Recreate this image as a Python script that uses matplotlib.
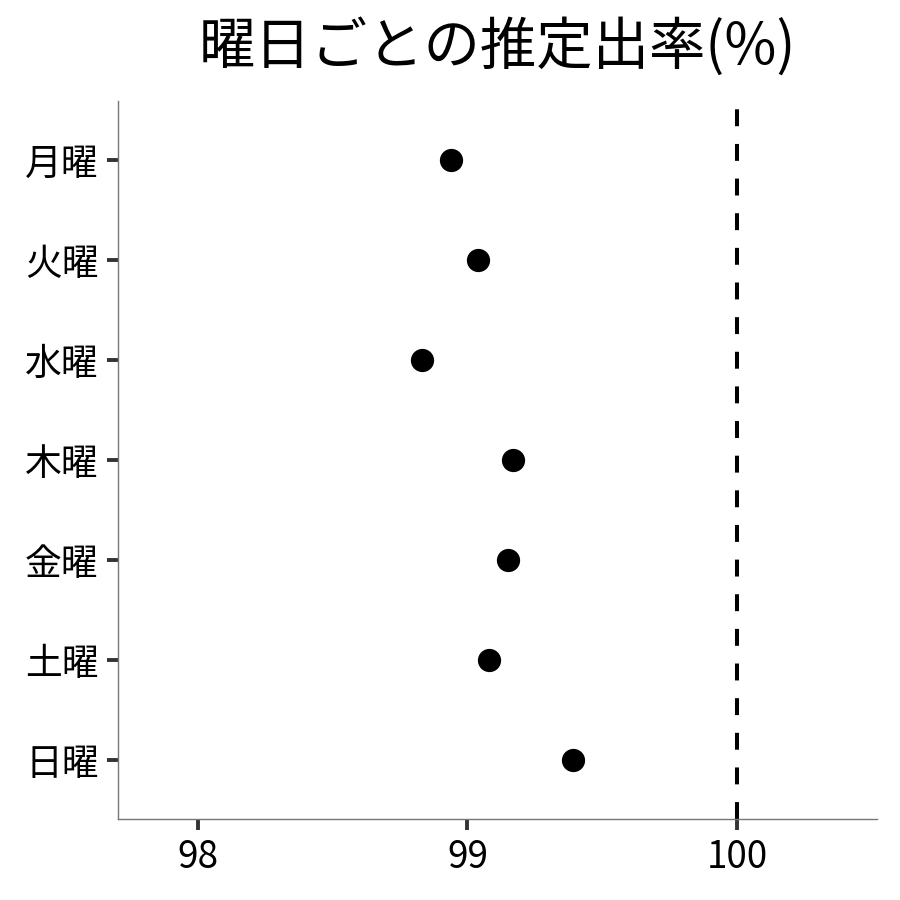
import matplotlib
matplotlib.use("Agg")
import matplotlib.pyplot as plt

plt.rcParams['font.family'] = ['Noto Sans CJK JP', 'DejaVu Sans']

# データ
days = ['月曜', '火曜', '水曜', '木曜', '金曜', '土曜', '日曜']
rates = [98.94, 99.04, 98.83, 99.17, 99.15, 99.08, 99.39]
x_ticks = [98, 99, 100]
ref_line = 100

fig = plt.figure(figsize=(9, 9), dpi=100)
ax = fig.add_axes([118 / 900, 1 - 819 / 900, (877 - 118) / 900, (819 - 101) / 900])

# 上から月曜
ypos = list(range(len(days), 0, -1))
ax.scatter(rates, ypos, s=280, color='black', zorder=3, linewidths=0)
ax.axvline(ref_line, color='black', linewidth=2.9, dashes=(4.2, 4.4), zorder=2)

ax.set_xlim(97.703, 100.52)
ax.set_ylim(0.41, len(days) + 0.59)
ax.set_xticks(x_ticks)
ax.set_xticklabels([str(t) for t in x_ticks])
ax.set_yticks(ypos)
ax.set_yticklabels(days)

for s in ['top', 'right']:
    ax.spines[s].set_visible(False)
for s in ['left', 'bottom']:
    ax.spines[s].set_color('#777777')
    ax.spines[s].set_linewidth(1.0)

ax.tick_params(axis='both', length=8, width=2.8, color='#333333', labelsize=26.5,
               labelcolor='black', pad=6)

# タイトルはパネル中央に
fig.text((118 + 877) / 2 / 900, 1 - 47 / 900, '曜日ごとの推定出率(%)',
         ha='center', va='center', fontsize=40.6)

fig.savefig('out.png', dpi=100)
